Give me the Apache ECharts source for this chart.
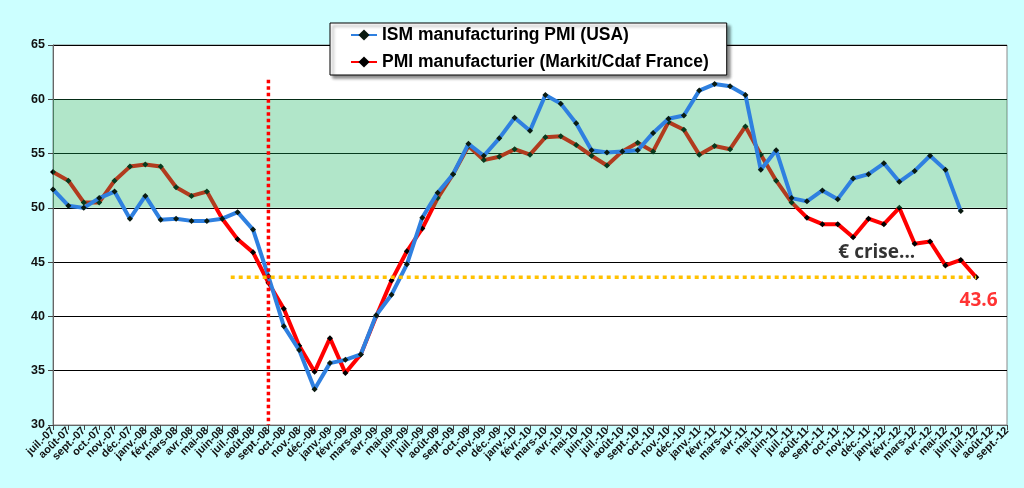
<!DOCTYPE html>
<html><head><meta charset="utf-8">
<script src="https://cdn.jsdelivr.net/npm/echarts@6/dist/echarts.min.js"></script>
<style>html,body{margin:0;padding:0;background:#ccffff}#c{width:1024px;height:488px}</style>
</head><body><div id="c"></div>
<script>
const categories = [
 'juil.-07','août-07','sept.-07','oct.-07','nov.-07','déc.-07',
 'janv.-08','févr.-08','mars-08','avr.-08','mai-08','juin-08','juil.-08','août-08','sept.-08','oct.-08','nov.-08','déc.-08',
 'janv.-09','févr.-09','mars-09','avr.-09','mai-09','juin-09','juil.-09','août-09','sept.-09','oct.-09','nov.-09','déc.-09',
 'janv.-10','févr.-10','mars-10','avr.-10','mai-10','juin-10','juil.-10','août-10','sept.-10','oct.-10','nov.-10','déc.-10',
 'janv.-11','févr.-11','mars-11','avr.-11','mai-11','juin-11','juil.-11','août-11','sept.-11','oct.-11','nov.-11','déc.-11',
 'janv.-12','févr.-12','mars-12','avr.-12','mai-12','juin-12','juil.-12','août-12','sept.-12'
];
const ismUSA = [
 51.7,50.2,50.0,50.9,51.5,49.0,51.1,48.9,49.0,48.8,48.8,49.0,49.6,48.0,43.7,39.1,36.9,33.3,35.7,36.0,
 36.5,40.1,42.0,44.8,49.1,51.4,53.1,55.9,54.8,56.4,58.3,57.1,60.4,59.6,57.8,55.3,55.1,55.2,55.3,56.9,
 58.2,58.5,60.8,61.4,61.2,60.4,53.5,55.3,50.9,50.6,51.6,50.8,52.7,53.1,54.1,52.4,53.4,54.8,53.5,49.7
];
const pmiFrance = [
 53.3,52.5,50.5,50.5,52.5,53.8,54.0,53.8,51.9,51.1,51.5,49.0,47.1,45.9,43.1,40.7,37.3,34.9,38.0,34.8,
 36.5,40.0,43.3,46.0,48.1,50.9,53.1,55.7,54.4,54.7,55.4,54.9,56.5,56.6,55.8,54.8,53.9,55.2,56.0,55.2,
 57.9,57.2,54.9,55.7,55.4,57.5,54.9,52.5,50.5,49.1,48.5,48.5,47.3,49.0,48.5,50.0,46.7,46.9,44.7,45.2,43.6
];
const seriesNames = ['ISM manufacturing PMI (USA)','PMI manufacturier (Markit/Cdaf France)'];
const expansionBand = [50, 60];
const crisisLine = [[14, 61.8], [14, 30]];
const lastLevelLine = [[11.55, 43.6], [60, 43.6]];
const crisisText = [[51.04, 45.85, '€ crise...']];
const lastValueText = [[60.15, 41.5, '43.6']];

const chart = echarts.init(document.getElementById('c'));
chart.setOption({
  animation: false,
  backgroundColor: '#ccffff',
  textStyle: { fontFamily: 'Liberation Sans, Arial, sans-serif' },
  grid: { left: 53, right: 17, top: 45, height: 380, show: true, backgroundColor: '#ffffff', borderColor: '#8a8a8a', borderWidth: 1 },
  legend: {
    data: seriesNames, orient: 'vertical', left: 330, top: 23,
    padding: [3, 18, 4, 20], itemGap: 9, itemWidth: 26, itemHeight: 14,
    backgroundColor: '#ffffff', borderColor: '#000', borderWidth: 1,
    shadowColor: 'rgba(0,0,0,0.45)', shadowBlur: 3, shadowOffsetX: 3, shadowOffsetY: 3,
    textStyle: { fontSize: 17.5, fontWeight: 'bold', color: '#000', lineHeight: 18 }
  },
  xAxis: [{
    type: 'category', data: categories, boundaryGap: false,
    axisLine: { lineStyle: { color: '#666', width: 1 } },
    axisTick: { show: true, interval: 0, length: 5, lineStyle: { color: '#444' } },
    axisLabel: { interval: 0, rotate: 45, fontSize: 11, fontWeight: 'bold', color: '#111', margin: 4 },
    splitLine: { show: false }
  }, {
    type: 'value', min: 0, max: 62, show: false
  }],
  yAxis: {
    type: 'value', min: 30, max: 65, interval: 5,
    axisLine: { show: true, lineStyle: { color: '#666' } },
    axisTick: { show: true, length: 5, lineStyle: { color: '#444' } },
    axisLabel: { fontSize: 12.5, fontWeight: 'bold', color: '#111', margin: 8 },
    splitLine: { lineStyle: { color: '#000', width: 1 } }
  },
  series: [
    { name: seriesNames[1], type: 'line', data: pmiFrance, showAllSymbol: true, symbol: 'diamond', symbolSize: 6,
      lineStyle: { color: '#ff0000', width: 4 }, itemStyle: { color: '#000' }, z: 3 },
    { name: 'band', type: 'line', data: [], z: 5,
      markArea: { silent: true, z: 5, itemStyle: { color: 'rgba(18,180,90,0.33)' },
        data: [[{ yAxis: expansionBand[0] }, { yAxis: expansionBand[1] }]] } },
    { name: seriesNames[0], type: 'line', data: ismUSA, showAllSymbol: true, symbol: 'diamond', symbolSize: 6,
      lineStyle: { color: '#2f80e0', width: 4 }, itemStyle: { color: '#0a1a10' }, z: 7 },
    { name: 'crisis', type: 'line', xAxisIndex: 1, data: crisisLine, symbol: 'none', z: 10,
      lineStyle: { color: '#ff0000', width: 3.5, type: [3.5, 3], cap: 'butt' } },
    { name: 'level', type: 'line', xAxisIndex: 1, data: lastLevelLine, symbol: 'none', z: 10,
      lineStyle: { color: '#ffc000', width: 3.5, type: [4, 4], cap: 'butt' } },
    { name: 'crisisText', type: 'scatter', xAxisIndex: 1, data: crisisText, symbolSize: 0, z: 12,
      label: { show: true, position: 'right', distance: 0, formatter: p => p.value[2],
        fontFamily: 'Open Sans', fontSize: 19, fontWeight: 'bold', color: '#000' } },
    { name: 'lastText', type: 'scatter', xAxisIndex: 1, data: lastValueText, symbolSize: 0, z: 12,
      label: { show: true, position: 'inside', formatter: p => p.value[2],
        fontFamily: 'Open Sans', fontSize: 19, fontWeight: 'bold', color: '#ff0000' } }
  ]
});
</script></body></html>
